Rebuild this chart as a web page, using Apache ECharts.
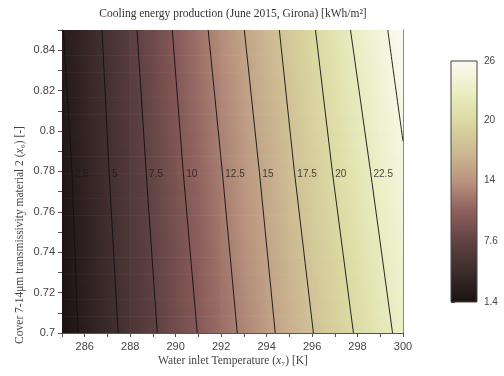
<!DOCTYPE html>
<html>
<head>
<meta charset="utf-8">
<script src="https://cdn.jsdelivr.net/npm/echarts@6/dist/echarts.min.js"></script>
<style>
  html, body { margin: 0; padding: 0; background: #fff; }
  #chart { width: 504px; height: 376px; }
</style>
</head>
<body>
<div id="chart"></div>
<script>
// Sampled field: water inlet temperature (K) x cover transmissivity
const temperatures = [285, 286, 287, 288, 289, 290, 291, 292, 293, 294, 295, 296, 297, 298, 299, 300];
const transmissivities = [0.70, 0.75, 0.80, 0.85];
const energyAt070 = [1.4, 2.9, 4.3, 5.8, 7.2, 8.7, 10.1, 11.5, 12.9, 14.4, 15.9, 17.4, 18.8, 20.3, 21.7, 23.2];
const energyAt075 = [1.8, 3.2, 4.7, 6.2, 7.7, 9.1, 10.6, 12.1, 13.6, 15.1, 16.6, 18.2, 19.6, 21.1, 22.6, 24.1];
const energyAt080 = [2.1, 3.6, 5.0, 6.6, 8.1, 9.7, 11.2, 12.7, 14.3, 15.8, 17.4, 18.9, 20.5, 22.0, 23.6, 25.0];
const energyAt085 = [2.4, 3.9, 5.4, 7.0, 8.6, 10.2, 11.8, 13.4, 15.0, 16.6, 18.2, 19.8, 21.4, 23.0, 24.5, 26.0];

// Contour lines: temperature where each level is crossed at three transmissivities
const contourLevels = [2.5, 5, 7.5, 10, 12.5, 15, 17.5, 20, 22.5];
const contourTau = [0.70, 0.78, 0.85];
const contourAt070 = [285.70, 287.47, 289.19, 290.95, 292.71, 294.38, 296.06, 297.82, 299.54];
const contourAt078 = [285.44, 287.07, 288.70, 290.33, 292.05, 293.68, 295.22, 296.89, 298.57];
const contourAt085 = [285.06, 286.76, 288.30, 289.85, 291.43, 293.02, 294.56, 296.15, 297.69];
// The 25 kWh/m² line only enters the upper right corner
const contour25Temp = [300.0, 299.62, 299.33];
const contour25Tau = [0.795, 0.826, 0.85];

// Axis ticks (labelled ones and the unlabelled ones in between)
const xLabelTicks = [286, 288, 290, 292, 294, 296, 298, 300];
const xAllTicks = [285, 286, 287, 288, 289, 290, 291, 292, 293, 294, 295, 296, 297, 298, 299, 300];
const yLabelTicks = [0.7, 0.72, 0.74, 0.76, 0.78, 0.8, 0.82, 0.84];
const yAllTicks = [0.7, 0.71, 0.72, 0.73, 0.74, 0.75, 0.76, 0.77, 0.78, 0.79, 0.8, 0.81, 0.82, 0.83, 0.84, 0.85];
const colorMin = 1.4, colorMax = 26;
const colorbarTicks = [1.4, 7.6, 13.8, 20, 26];

// Colorbar tick marks: six steps between consecutive labelled ticks
const colorbarAllTicks = [colorbarTicks[0]];
for (let k = 0; k < colorbarTicks.length - 1; k++) {
  const a = colorbarTicks[k], b = colorbarTicks[k + 1];
  for (let s = 1; s <= 6; s++) colorbarAllTicks.push(a + (b - a) * s / 6);
}

// Pink-to-cream colour ramp
const pinkScale = ['#1b1212', '#3d2b2b', '#5f4242', '#8d5e5c', '#b9937f',
                   '#cdbb93', '#dbd9a1', '#eaefc4', '#fafaf0'];
function colorOf(v) {
  let t = (v - colorMin) / (colorMax - colorMin);
  t = Math.max(0, Math.min(1, t));
  return echarts.color.lerp(t, pinkScale);
}

const rows = [energyAt070, energyAt075, energyAt080, energyAt085];
const fieldData = [];
rows.forEach((row, j) => row.forEach((v, i) => fieldData.push([temperatures[i], transmissivities[j], v])));

// Each grid cell is painted as thin horizontal strips with a left-to-right gradient
function renderFieldCell(params, api) {
  const n = temperatures.length;
  const i = params.dataIndex % n;
  const j = Math.floor(params.dataIndex / n);
  if (i >= n - 1 || j >= transmissivities.length - 1) return null;
  const a = rows[j][i], b = rows[j][i + 1], c = rows[j + 1][i], d = rows[j + 1][i + 1];
  const topLeft = api.coord([temperatures[i], transmissivities[j + 1]]);
  const bottomRight = api.coord([temperatures[i + 1], transmissivities[j]]);
  const strips = 12;
  const h = (bottomRight[1] - topLeft[1]) / strips;
  const w = bottomRight[0] - topLeft[0];
  const padX = i < n - 2 ? 0.6 : 0;
  const padY = j > 0 ? 0.6 : 0;
  const children = [];
  for (let k = 0; k < strips; k++) {
    const f = 1 - (k + 0.5) / strips;
    const left = a + (c - a) * f;
    const right = b + (d - b) * f;
    children.push({
      type: 'rect',
      shape: { x: topLeft[0], y: topLeft[1] + k * h, width: w + padX, height: h + (k < strips - 1 ? 0.6 : padY) },
      style: {
        fill: new echarts.graphic.LinearGradient(0, 0, 1, 0, [
          { offset: 0, color: colorOf(left) },
          { offset: 1, color: colorOf(right) }
        ])
      }
    });
  }
  return { type: 'group', children: children };
}

function renderColorbar(params, api) {
  const p0 = api.coord([0, colorMax]);
  const p1 = api.coord([1, colorMin]);
  const stops = pinkScale.map((c, k) => ({ offset: k / (pinkScale.length - 1), color: c }));
  return {
    type: 'rect',
    shape: { x: p0[0], y: p0[1], width: p1[0] - p0[0], height: p1[1] - p0[1] },
    style: {
      fill: new echarts.graphic.LinearGradient(0, 1, 0, 0, stops),
      stroke: '#444',
      lineWidth: 1
    }
  };
}

const contourSeries = contourLevels.map((lvl, k) => ({
  type: 'line',
  xAxisIndex: 0, yAxisIndex: 0,
  data: [[contourAt070[k], contourTau[0]], [contourAt078[k], contourTau[1]], [contourAt085[k], contourTau[2]]],
  symbol: 'none',
  lineStyle: { color: '#111', width: 0.9 },
  z: 5,
  silent: true
}));
contourSeries.push({
  type: 'line',
  xAxisIndex: 0, yAxisIndex: 0,
  data: contour25Temp.map((t, k) => [t, contour25Tau[k]]),
  symbol: 'none',
  smooth: true,
  lineStyle: { color: '#111', width: 0.9 },
  z: 5,
  silent: true
});

const labelSeries = {
  type: 'scatter',
  xAxisIndex: 0, yAxisIndex: 0,
  data: contourLevels.map((lvl, k) => [contourAt078[k], contourTau[1], lvl]),
  symbolSize: 0,
  z: 6,
  silent: true,
  label: {
    show: true,
    position: 'right',
    distance: 3,
    offset: [0, 3],
    formatter: p => String(p.value[2]),
    fontFamily: '"Liberation Sans", Arial, sans-serif',
    fontSize: 10,
    color: '#1a1a1a'
  }
};

const tickFont = { fontFamily: '"Liberation Sans", Arial, sans-serif', fontSize: 11, color: '#444' };
const axisGray = '#555';
const serif = '"Liberation Serif", "DejaVu Serif", serif';

const chart = echarts.init(document.getElementById('chart'), null, { renderer: 'canvas' });
chart.setOption({
  animation: false,
  backgroundColor: '#fff',
  grid: [
    { left: 62, right: 101, top: 30, bottom: 43, containLabel: false },
    { left: 451, width: 26, top: 61, height: 241, containLabel: false }
  ],
  xAxis: [
    {
      type: 'value', gridIndex: 0, min: 285, max: 300, position: 'bottom',
      axisLine: { show: true, lineStyle: { color: axisGray } },
      axisTick: { show: true, customValues: xAllTicks, length: 4, lineStyle: { color: axisGray } },
      axisLabel: { show: true, customValues: xLabelTicks, margin: 8, formatter: v => String(v), ...tickFont },
      splitLine: { show: false }
    },
    {
      type: 'value', gridIndex: 0, min: 285, max: 300, position: 'top',
      axisLine: { show: true, lineStyle: { color: '#888' } },
      axisTick: { show: false }, axisLabel: { show: false }, splitLine: { show: false }
    },
    { type: 'value', gridIndex: 1, min: 0, max: 1, show: false }
  ],
  yAxis: [
    {
      type: 'value', gridIndex: 0, min: 0.7, max: 0.85, position: 'left',
      axisLine: { show: true, lineStyle: { color: axisGray } },
      axisTick: { show: true, customValues: yAllTicks, length: 4, lineStyle: { color: axisGray } },
      axisLabel: { show: true, customValues: yLabelTicks, margin: 7, formatter: v => String(+v.toFixed(2)), ...tickFont },
      splitLine: { show: false }
    },
    {
      type: 'value', gridIndex: 0, min: 0.7, max: 0.85, position: 'right',
      axisLine: { show: true, lineStyle: { color: '#888' } },
      axisTick: { show: false }, axisLabel: { show: false }, splitLine: { show: false }
    },
    {
      type: 'value', gridIndex: 1, min: colorMin, max: colorMax, position: 'right',
      axisLine: { show: false },
      axisTick: { show: true, customValues: colorbarAllTicks, length: 4, lineStyle: { color: '#444' } },
      axisLabel: { show: true, customValues: colorbarTicks, margin: 7, formatter: v => String(+v.toPrecision(2)),
                   fontFamily: '"Liberation Sans", Arial, sans-serif', fontSize: 10, color: '#444' },
      splitLine: { show: false }
    }
  ],
  series: [
    {
      type: 'custom',
      xAxisIndex: 0, yAxisIndex: 0,
      data: fieldData,
      renderItem: renderFieldCell,
      clip: true,
      silent: true,
      z: 1
    },
    ...contourSeries,
    labelSeries,
    {
      type: 'custom',
      xAxisIndex: 2, yAxisIndex: 2,
      data: [[0, colorMin]],
      renderItem: renderColorbar,
      silent: true
    }
  ],
  graphic: [
    {
      type: 'text', x: 233, y: 14,
      style: {
        text: 'Cooling energy production (June 2015, Girona) [kWh/m²]',
        font: '11.5px ' + serif, fill: '#333', align: 'center', verticalAlign: 'middle'
      }
    },
    {
      type: 'text', x: 233, y: 361,
      style: {
        text: 'Water inlet Temperature ({it|x}₇) [K]',
        font: '11.5px ' + serif, fill: '#444', align: 'center', verticalAlign: 'middle',
        rich: { it: { fontStyle: 'italic', fontFamily: serif, fontSize: 11.5, fill: '#444' } }
      }
    },
    {
      type: 'text', x: 20, y: 235, rotation: Math.PI / 2,
      style: {
        text: 'Cover 7-14μm transmissivity material 2 ({it|x}₆) [-]',
        font: '11.5px ' + serif, fill: '#444', align: 'center', verticalAlign: 'middle',
        rich: { it: { fontStyle: 'italic', fontFamily: serif, fontSize: 11.5, fill: '#444' } }
      }
    }
  ]
});
</script>
</body>
</html>
